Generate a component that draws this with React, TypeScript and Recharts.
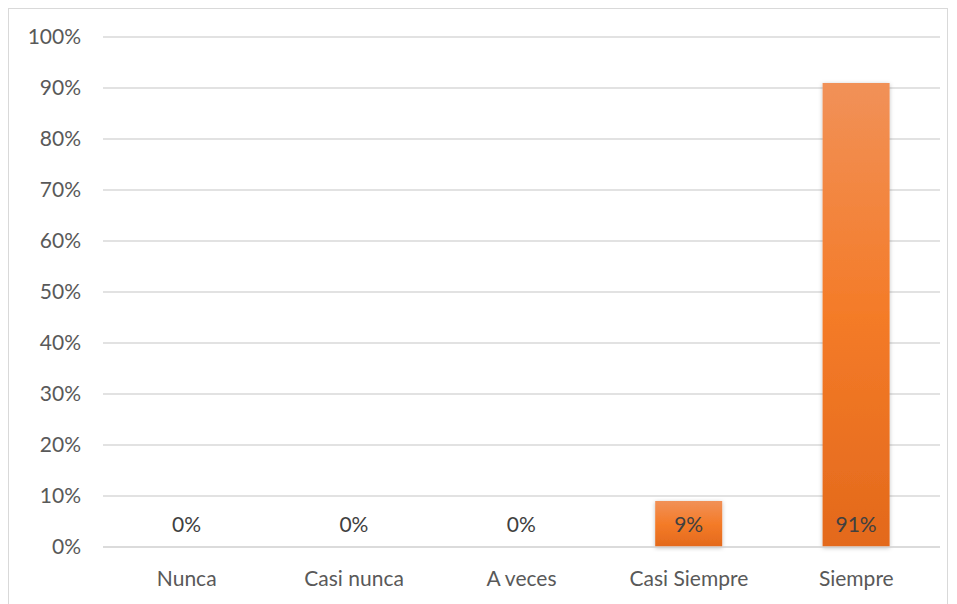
import { BarChart, Bar, XAxis, YAxis, CartesianGrid, LabelList } from "recharts";

const categories = ["Nunca", "Casi nunca", "A veces", "Casi Siempre", "Siempre"];
const shares = [0, 0, 0, 0.09, 0.91];
const yTicks = [0, 0.1, 0.2, 0.3, 0.4, 0.5, 0.6, 0.7, 0.8, 0.9, 1];

const data = categories.map((name, i) => ({ name, value: shares[i] }));

const pct = (v: number) => `${Math.round(v * 100)}%`;

const FONT = "Lato, 'Open Sans', sans-serif";

// value label sits a fixed distance above the baseline, inside the bar
const ValueLabel = (props: any) => {
  const { x, y, width, height, value } = props;
  const base = y + height;
  return (
    <text
      x={x + width / 2}
      y={base - 24}
      textAnchor="middle"
      dominantBaseline="central"
      fill="#404040"
      fontSize={21}
      fontFamily={FONT}
    >
      {pct(value)}
    </text>
  );
};

const App = () => {
  return (
    <div
      style={{
        width: 938,
        height: 600,
        border: "1px solid #d9d9d9",
        background: "#fff",
        fontFamily: FONT,
      }}
    >
      <BarChart
        width={938}
        height={596}
        data={data}
        margin={{ top: 28, right: 7, left: 0, bottom: 0 }}
      >
        <defs>
          <linearGradient id="barFill" x1="0" y1="0" x2="0" y2="1">
            <stop offset="0%" stopColor="#F19158" />
            <stop offset="50%" stopColor="#F47B28" />
            <stop offset="100%" stopColor="#E3691C" />
          </linearGradient>
          <filter id="barShadow" x="-20%" y="-5%" width="140%" height="115%">
            <feDropShadow dx="0" dy="1" stdDeviation="2" floodColor="#000" floodOpacity="0.25" />
          </filter>
        </defs>
        <CartesianGrid vertical={false} stroke="#d9d9d9" strokeWidth={1.5} />
        <XAxis
          dataKey="name"
          height={58}
          tickLine={false}
          axisLine={{ stroke: "#d9d9d9", strokeWidth: 1.5 }}
          tickSize={0}
          tickMargin={24}
          tick={{ fill: "#595959", fontSize: 21, fontFamily: FONT }}
          interval={0}
        />
        <YAxis
          width={94}
          domain={[0, 1]}
          ticks={yTicks}
          tickFormatter={pct}
          tickLine={false}
          axisLine={false}
          tickSize={0}
          tickMargin={22}
          tick={{ fill: "#595959", fontSize: 21, fontFamily: FONT }}
          interval={0}
        />
        <Bar
          dataKey="value"
          fill="url(#barFill)"
          barSize={67}
          minPointSize={0.01}
          filter="url(#barShadow)"
          isAnimationActive={false}
        >
          <LabelList dataKey="value" content={<ValueLabel />} />
        </Bar>
      </BarChart>
    </div>
  );
};

export default App;
